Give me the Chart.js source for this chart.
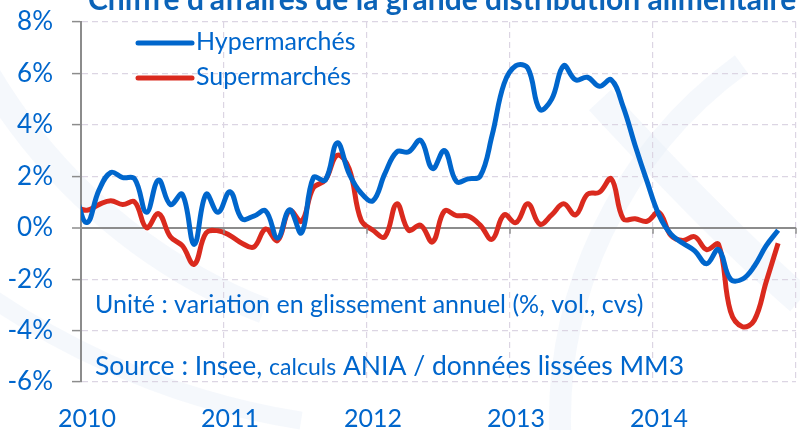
<!DOCTYPE html>
<html><head><meta charset="utf-8">
<script src="https://cdn.jsdelivr.net/npm/chart.js@4.4.1/dist/chart.umd.min.js"></script>
<style>html,body{margin:0;padding:0;background:#fff}#wrap{width:800px;height:430px;position:relative}</style>
</head><body><div id="wrap"><canvas id="c" width="800" height="430"></canvas></div>
<script>
const months = ['2009-12',
 '2010-01','2010-02','2010-03','2010-04','2010-05','2010-06','2010-07','2010-08','2010-09','2010-10','2010-11','2010-12',
 '2011-01','2011-02','2011-03','2011-04','2011-05','2011-06','2011-07','2011-08','2011-09','2011-10','2011-11','2011-12',
 '2012-01','2012-02','2012-03','2012-04','2012-05','2012-06','2012-07','2012-08','2012-09','2012-10','2012-11','2012-12',
 '2013-01','2013-02','2013-03','2013-04','2013-05','2013-06','2013-07','2013-08','2013-09','2013-10','2013-11','2013-12',
 '2014-01','2014-02','2014-03','2014-04','2014-05','2014-06','2014-07','2014-08','2014-09','2014-10','2014-11'];
const hypermarches = [1.3,
 0.2,1.45,2.15,1.95,1.9,0.6,1.85,0.9,1.3,-0.65,1.3,0.6,
 1.4,0.35,0.45,0.65,-0.4,0.7,-0.2,1.95,1.85,3.3,2.1,1.35,
 1.05,2.1,2.95,2.95,3.4,2.3,3.0,1.8,1.9,2.0,3.6,5.6,
 6.3,6.2,4.6,5.0,6.3,5.75,5.85,5.5,5.75,4.7,3.2,1.8,
 0.5,-0.25,-0.6,-0.9,-1.4,-0.85,-2.0,-2.0,-1.5,-0.7,-0.1];
const supermarches = [0.8,
 0.68,0.9,1.05,0.9,1.0,0.0,0.55,-0.35,-0.7,-1.42,-0.2,-0.12,
 -0.3,-0.6,-0.75,-0.05,-0.5,0.67,0.25,1.55,1.85,2.82,2.3,0.3,
 -0.1,-0.35,0.93,-0.1,0.1,-0.55,0.65,0.47,0.45,0.1,-0.45,0.5,
 0.2,0.93,0.14,0.5,0.93,0.5,1.3,1.38,1.9,0.35,0.35,0.25,
 0.6,-0.3,-0.5,-0.35,-0.85,-0.65,-3.25,-3.85,-3.6,-2.1,-0.6];
const seriesNames = ['Hypermarchés','Supermarchés'];
const yearLabels = ['2010','2011','2012','2013','2014'];
const titleText = "Chiffre d'affaires de la grande distribution alimentaire";
const noteUnit = 'Unité : variation en glissement annuel (%, vol., cvs)';
const noteSource = ['Source : Insee, ', 'calculs', ' ANIA / données lissées MM3'];

const BLUE = '#0066CC', RED = '#DA2A1E', TXT = '#0066CC';
const FONT = 'Lato, "Noto Sans", sans-serif';

function monthPos(m){ const [y,mo]=m.split('-').map(Number); return y + (mo-0.5)/12; }
const toPts = arr => arr.map((v,i)=>({x:monthPos(months[i]), y:v}));

const watermark = {
  id:'watermark',
  beforeDraw(chart){
    const ctx = chart.ctx;
    ctx.save();
    ctx.fillStyle = '#fff'; ctx.fillRect(0,0,800,430);
    ctx.strokeStyle = 'rgba(232,239,249,0.45)';
    ctx.lineCap = 'butt';
    ctx.lineWidth = 26;
    ctx.beginPath(); ctx.arc(470, -210, 560, Math.PI*0.62, Math.PI*0.95); ctx.stroke();
    ctx.lineWidth = 18;
    ctx.beginPath(); ctx.arc(420, -330, 760, Math.PI*0.55, Math.PI*0.9); ctx.stroke();
    ctx.lineWidth = 22;
    ctx.beginPath(); ctx.arc(1000, 420, 440, Math.PI*0.98, Math.PI*1.3); ctx.stroke();
    ctx.lineWidth = 30;
    ctx.beginPath(); ctx.moveTo(600, 100); ctx.quadraticCurveTo(720, 230, 800, 300); ctx.stroke();
    ctx.restore();
  }
};

const overlay = {
  id:'overlay',
  afterDraw(chart){
    const ctx = chart.ctx, xs = chart.scales.x, ys = chart.scales.y;
    ctx.save();
    ctx.strokeStyle = '#8c8c8c'; ctx.lineWidth = 1.5;
    const y0 = ys.getPixelForValue(0);
    for (let yr = 2010; yr <= 2015; yr++) {
      const x = xs.getPixelForValue(yr);
      ctx.beginPath(); ctx.moveTo(x, y0); ctx.lineTo(x, y0 + 6); ctx.stroke();
    }
    ctx.fillStyle = '#0B63B8';
    ctx.font = 'bold 30px ' + FONT;
    ctx.textBaseline = 'alphabetic';
    ctx.fillText(titleText, 88, 10);
    const ds = chart.data.datasets;
    ctx.lineCap = 'round'; ctx.lineWidth = 5;
    ctx.font = '25px ' + FONT; ctx.textBaseline = 'middle';
    [43, 78].forEach((ly, i) => {
      ctx.strokeStyle = ds[i].borderColor;
      ctx.beginPath(); ctx.moveTo(138, ly); ctx.lineTo(192, ly); ctx.stroke();
      ctx.fillStyle = TXT; ctx.fillText(ds[i].label, 196, ly - 1);
    });
    ctx.textBaseline = 'alphabetic';
    ctx.font = '25px ' + FONT;
    ctx.fillText(noteUnit, 95, 313);
    let x = 95;
    const sizes = [26.5, 23, 26.5];
    noteSource.forEach((t, i) => {
      ctx.font = sizes[i] + 'px ' + FONT;
      ctx.fillText(t, x, 375);
      x += ctx.measureText(t).width;
    });
    ctx.restore();
  }
};

new Chart(document.getElementById('c'), {
  type: 'line',
  data: {
    datasets: [
      { label: seriesNames[0], data: toPts(hypermarches), borderColor: BLUE, borderWidth: 5, pointRadius: 0, tension: 0.4, fill: false, clip: 0 },
      { label: seriesNames[1], data: toPts(supermarches), borderColor: RED, borderWidth: 5, pointRadius: 0, tension: 0.4, fill: false, clip: 0 }
    ]
  },
  options: {
    responsive: false, animation: false,
    layout: { padding: { top: 22, right: 4, left: 0, bottom: 0 } },
    plugins: { legend: { display: false }, tooltip: { enabled: false }, title: { display: false } },
    scales: {
      x: {
        type: 'linear', min: 2010, max: 2015,
        afterFit: s => { s.height = 48; s.paddingLeft = 0; s.paddingRight = 0; },
        afterBuildTicks: s => { s.ticks = [2010,2011,2012,2013,2014,2015].map(v => ({value: v})); },
        ticks: {
          color: TXT, font: { family: FONT, size: 25 }, padding: 22, labelOffset: 6, maxRotation: 0, autoSkip: false,
          callback: (v) => { const i = v - 2010; return i >= 0 && i < yearLabels.length ? yearLabels[i] : ''; }
        },
        grid: { color: '#DCD5E3', lineWidth: 1.2, drawTicks: false },
        border: { display: false, dash: [6, 4] }
      },
      y: {
        min: -6, max: 8,
        afterFit: s => { s.width = 81; s.paddingTop = 0; s.paddingBottom = 0; },
        ticks: { stepSize: 2, color: TXT, font: { family: FONT, size: 26 }, padding: 19, callback: v => v + '%' },
        grid: {
          color: c => (c.tick && c.tick.value === 0) ? '#8c8c8c' : '#DCD5E3',
          lineWidth: c => (c.tick && c.tick.value === 0) ? 2 : 1.2,
          tickColor: '#8c8c8c', tickLength: 9, tickWidth: 1.5
        },
        border: { display: true, color: '#8c8c8c', width: 2, dash: c => (c.tick && c.tick.value === 0) ? [] : [6, 4] }
      }
    }
  },
  plugins: [watermark, overlay]
});
</script></body></html>
